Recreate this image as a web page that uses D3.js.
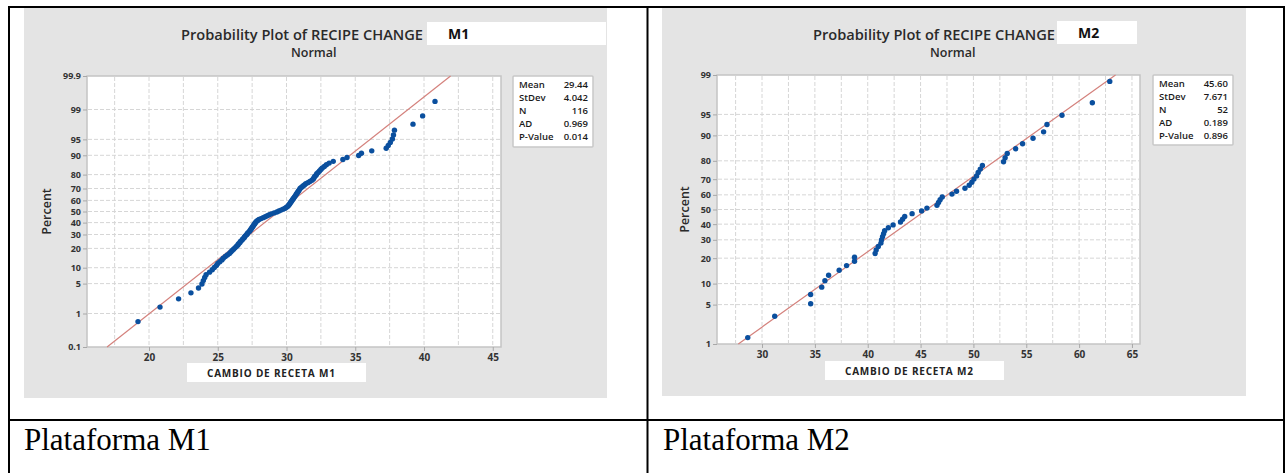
<!DOCTYPE html>
<html>
<head>
<meta charset="utf-8">
<script src="https://cdn.jsdelivr.net/npm/d3@7"></script>
<style>
  html, body { margin: 0; padding: 0; background: #fff; }
  svg { display: block; }
</style>
</head>
<body>
<svg id="chart" width="1285" height="473"></svg>
<script>
// Sorted observations for each platform (recipe change times)
const valuesM1 = [
  19.2, 20.8, 22.15, 23.05, 23.6, 23.85, 23.95, 24.05, 24.15, 24.4,
  24.6, 24.75, 24.9, 25.0, 25.15, 25.3, 25.4, 25.55, 25.7, 25.85,
  25.95, 26.05, 26.15, 26.25, 26.35, 26.45, 26.5, 26.6, 26.65, 26.75,
  26.8, 26.9, 26.95, 27.0, 27.1, 27.15, 27.2, 27.3, 27.35, 27.4,
  27.45, 27.5, 27.55, 27.6, 27.65, 27.7, 27.75, 27.8, 27.9, 28.0,
  28.15, 28.3, 28.45, 28.6, 28.75, 28.9, 29.1, 29.3, 29.45, 29.6,
  29.75, 29.9, 30.0, 30.1, 30.15, 30.2, 30.25, 30.3, 30.35, 30.4,
  30.45, 30.5, 30.55, 30.6, 30.65, 30.7, 30.75, 30.8, 30.85, 30.9,
  30.95, 31.0, 31.1, 31.2, 31.3, 31.4, 31.55, 31.7, 31.85, 31.95,
  32.0, 32.05, 32.15, 32.2, 32.3, 32.4, 32.5, 32.6, 32.75, 32.9,
  33.1, 33.4, 34.1, 34.4, 35.25, 35.45, 36.2, 37.25, 37.4, 37.55,
  37.7, 37.78, 37.85, 39.2, 39.9, 40.8
];
const valuesM2 = [
  28.65, 31.2, 34.6, 34.6, 35.65, 35.95, 36.3, 37.3, 38.0, 38.75,
  38.75, 40.7, 40.8, 41.0, 41.25, 41.3, 41.4, 41.5, 41.6, 41.95,
  42.4, 43.1, 43.3, 43.5, 44.2, 45.1, 45.6, 46.55, 46.7, 46.85,
  47.05, 47.97, 48.4, 49.2, 49.6, 49.85, 50.05, 50.3, 50.45, 50.65,
  50.85, 52.85, 53.0, 53.2, 54.0, 54.65, 55.64, 56.64, 56.96, 58.38,
  61.25, 62.9
];

// Summary statistics shown in each legend box
const statLabels = ["Mean", "StDev", "N", "AD", "P-Value"];
const statsM1 = ["29.44", "4.042", "116", "0.969", "0.014"];
const statsM2 = ["45.60", "7.671", "52", "0.189", "0.896"];
const meanM1 = 29.44, sdM1 = 4.042;
const meanM2 = 45.60, sdM2 = 7.671;

// Axis ticks
const percentTicksM1 = [0.1, 1, 5, 10, 20, 30, 40, 50, 60, 70, 80, 90, 95, 99, 99.9];
const percentTicksM2 = [1, 5, 10, 20, 30, 40, 50, 60, 70, 80, 90, 95, 99];
const xTicksM1 = [20, 25, 30, 35, 40, 45];
const xTicksM2 = [30, 35, 40, 45, 50, 55, 60, 65];

// Texts
const titleText = "Probability Plot of RECIPE CHANGE";
const subtitleText = "Normal";
const yTitle = "Percent";
const xTitleM1 = "CAMBIO DE RECETA M1";
const xTitleM2 = "CAMBIO DE RECETA M2";
const captionM1 = "Plataforma M1";
const captionM2 = "Plataforma M2";

// Inverse standard normal CDF (Acklam's rational approximation)
function normInv(p) {
  const a = [-3.969683028665376e+01, 2.209460984245205e+02, -2.759285104469687e+02,
             1.383577518672690e+02, -3.066479806614716e+01, 2.506628277459239e+00];
  const b = [-5.447609879822406e+01, 1.615858368580409e+02, -1.556989798598866e+02,
             6.680131188771972e+01, -1.328068155288572e+01];
  const c = [-7.784894002430293e-03, -3.223964580411365e-01, -2.400758277161838e+00,
             -2.549671660381180e+00, 4.374664141464968e+00, 2.938163982698783e+00];
  const d = [7.784695709041462e-03, 3.224671290700398e-01, 2.445134137142996e+00,
             3.754408661907416e+00];
  const pl = 0.02425, ph = 1 - pl;
  let q, r;
  if (p < pl) {
    q = Math.sqrt(-2 * Math.log(p));
    return (((((c[0]*q+c[1])*q+c[2])*q+c[3])*q+c[4])*q+c[5]) / ((((d[0]*q+d[1])*q+d[2])*q+d[3])*q+1);
  } else if (p <= ph) {
    q = p - 0.5; r = q * q;
    return (((((a[0]*r+a[1])*r+a[2])*r+a[3])*r+a[4])*r+a[5])*q / (((((b[0]*r+b[1])*r+b[2])*r+b[3])*r+b[4])*r+1);
  } else {
    q = Math.sqrt(-2 * Math.log(1 - p));
    return -(((((c[0]*q+c[1])*q+c[2])*q+c[3])*q+c[4])*q+c[5]) / ((((d[0]*q+d[1])*q+d[2])*q+d[3])*q+1);
  }
}

const svg = d3.select("#chart");
const FONT = "'Open Sans', 'Noto Sans', sans-serif";
const tickColor = "#333";

// Table frame
const frame = svg.append("g").attr("stroke", "#000").attr("stroke-width", 2);
frame.append("line").attr("x1", 8).attr("x2", 1285).attr("y1", 7).attr("y2", 7);
frame.append("line").attr("x1", 8).attr("x2", 1285).attr("y1", 420).attr("y2", 420);
frame.append("line").attr("x1", 9).attr("x2", 9).attr("y1", 6).attr("y2", 473);
frame.append("line").attr("x1", 647.5).attr("x2", 647.5).attr("y1", 6).attr("y2", 473);
frame.append("line").attr("x1", 1284).attr("x2", 1284).attr("y1", 6).attr("y2", 473);

function drawPanel(cfg) {
  const g = svg.append("g");
  const P = cfg.plot;

  // Panel background
  g.append("rect").attr("x", cfg.panel[0]).attr("y", cfg.panel[1])
    .attr("width", cfg.panel[2]).attr("height", cfg.panel[3]).attr("fill", "#e4e4e4");

  const x = d3.scaleLinear().domain(cfg.xDomain).range([P.l, P.r]);
  const zLo = normInv(cfg.pDomain[0] / 100), zHi = normInv(cfg.pDomain[1] / 100);
  const y = d3.scaleLinear().domain([zLo, zHi]).range([P.b, P.t]);
  const yp = p => y(normInv(p / 100));

  // Plot area
  g.append("rect").attr("x", P.l).attr("y", P.t).attr("width", P.r - P.l).attr("height", P.b - P.t)
    .attr("fill", "#fff").attr("stroke", "#c4c4c4").attr("stroke-width", 1.5);

  // Grid lines
  const grid = g.append("g").attr("stroke", "#d6d6d6").attr("stroke-width", 1).attr("stroke-dasharray", "4,2");
  const vGrid = d3.range(Math.ceil(cfg.xDomain[0] / 2.5) * 2.5, cfg.xDomain[1], 2.5);
  grid.selectAll(".vg").data(vGrid).join("line")
    .attr("x1", d => x(d)).attr("x2", d => x(d)).attr("y1", P.t + 1).attr("y2", P.b - 1);
  grid.selectAll(".hg").data(cfg.pTicks.filter(p => p > cfg.pDomain[0] && p < cfg.pDomain[1])).join("line")
    .attr("x1", P.l + 1).attr("x2", P.r - 1).attr("y1", d => yp(d)).attr("y2", d => yp(d));

  // Axes
  const yAxis = d3.axisLeft(y).tickValues(cfg.pTicks.map(p => normInv(p / 100)))
    .tickFormat((d, i) => String(cfg.pTicks[i])).tickSize(4).tickPadding(2);
  const ya = g.append("g").attr("transform", `translate(${P.l},0)`).call(yAxis);
  const xAxis = d3.axisBottom(x).tickValues(cfg.xTicks).tickSize(4).tickPadding(3);
  const xa = g.append("g").attr("transform", `translate(0,${P.b})`).call(xAxis);
  [ya, xa].forEach(a => {
    a.select(".domain").remove();
    a.selectAll(".tick line").attr("stroke", "#a8a8a8");
    a.selectAll(".tick text").attr("fill", tickColor).style("font-family", FONT)
      .style("font-weight", "700");
  });
  ya.selectAll(".tick text").style("font-size", "9px");
  xa.selectAll(".tick text").style("font-size", "10px");

  // Fitted normal line from the legend's mean and standard deviation
  g.append("line")
    .attr("x1", x(cfg.mean + zLo * cfg.sd)).attr("y1", y(zLo))
    .attr("x2", x(cfg.mean + zHi * cfg.sd)).attr("y2", y(zHi))
    .attr("stroke", "#d4817c").attr("stroke-width", 1.2);

  // Data points at Benard median-rank plotting positions
  const n = cfg.values.length;
  g.append("g").selectAll("circle").data(cfg.values).join("circle")
    .attr("cx", d => x(d))
    .attr("cy", (d, i) => y(normInv((i + 1 - 0.3) / (n + 0.4))))
    .attr("r", 2.7).attr("fill", "#0a4f9e");

  // Titles
  g.append("text").attr("x", cfg.titleX).attr("y", 40).text(titleText)
    .attr("fill", "#2a2a2a").style("font-family", FONT).style("font-size", "14.6px").style("font-weight", "600");
  g.append("rect").attr("x", cfg.boxX).attr("y", cfg.boxY).attr("width", cfg.boxW).attr("height", 23).attr("fill", "#fff");
  g.append("text").attr("x", cfg.boxX + 21).attr("y", cfg.boxY + 17).text(cfg.tag)
    .attr("fill", "#111").style("font-family", FONT).style("font-size", "14px").style("font-weight", "700");
  g.append("text").attr("x", cfg.subX).attr("y", 57).text(subtitleText)
    .attr("fill", "#2a2a2a").style("font-family", FONT).style("font-size", "12.5px").style("font-weight", "600");

  // Y axis title
  g.append("text").attr("transform", `translate(${cfg.yTitleX},${(P.t + P.b) / 2}) rotate(-90)`)
    .attr("text-anchor", "middle").text(yTitle)
    .attr("fill", "#2a2a2a").style("font-family", FONT).style("font-size", "12.5px").style("font-weight", "600");

  // X axis title in its white box
  g.append("rect").attr("x", cfg.xtBox[0]).attr("y", cfg.xtBox[1]).attr("width", 179).attr("height", 19).attr("fill", "#fff");
  g.append("text").attr("x", cfg.xtBox[0] + 20).attr("y", cfg.xtBox[1] + 14).text(cfg.xTitle)
    .attr("fill", "#222").style("font-family", FONT).style("font-size", "10px").style("font-weight", "700")
    .style("letter-spacing", "0.8px");

  // Legend box with statistics
  const L = cfg.legend;
  g.append("rect").attr("x", L[0]).attr("y", L[1]).attr("width", 80).attr("height", L[2])
    .attr("fill", "#fff").attr("stroke", "#c8c8c8").attr("stroke-width", 1.5).attr("rx", 1);
  statLabels.forEach((lab, i) => {
    const yy = L[1] + 12 + i * L[3];
    g.append("text").attr("x", L[0] + 6).attr("y", yy).text(lab)
      .attr("fill", "#1a1a1a").style("font-family", FONT).style("font-size", "9.5px").style("font-weight", "600");
    g.append("text").attr("x", L[0] + 75).attr("y", yy).attr("text-anchor", "end").text(cfg.stats[i])
      .attr("fill", "#1a1a1a").style("font-family", FONT).style("font-size", "9.5px").style("font-weight", "600");
  });

  // Caption cell
  svg.append("text").attr("x", cfg.captionX).attr("y", 450).text(cfg.caption)
    .attr("fill", "#000").style("font-family", "'Liberation Serif', 'Times New Roman', serif").style("font-size", "31px");
}

drawPanel({
  panel: [24, 8, 583, 390],
  plot: { l: 87, t: 76, r: 501, b: 347 },
  xDomain: [15.49, 45.6], pDomain: [0.1, 99.9],
  pTicks: percentTicksM1, xTicks: xTicksM1,
  values: valuesM1, mean: meanM1, sd: sdM1, stats: statsM1,
  titleX: 181, boxX: 427, boxY: 22, boxW: 179, tag: "M1", subX: 291,
  yTitleX: 51, xtBox: [187, 363], xTitle: xTitleM1,
  legend: [513, 76, 71, 12.9], caption: captionM1, captionX: 24
});

drawPanel({
  panel: [662, 8, 584, 388],
  plot: { l: 717, t: 75, r: 1140, b: 344 },
  xDomain: [25.74, 65.76], pDomain: [1, 99],
  pTicks: percentTicksM2, xTicks: xTicksM2,
  values: valuesM2, mean: meanM2, sd: sdM2, stats: statsM2,
  titleX: 813, boxX: 1057, boxY: 21, boxW: 80, tag: "M2", subX: 930,
  yTitleX: 689, xtBox: [825, 361], xTitle: xTitleM2,
  legend: [1153, 75, 70, 13.1], caption: captionM2, captionX: 663
});
</script>
</body>
</html>
